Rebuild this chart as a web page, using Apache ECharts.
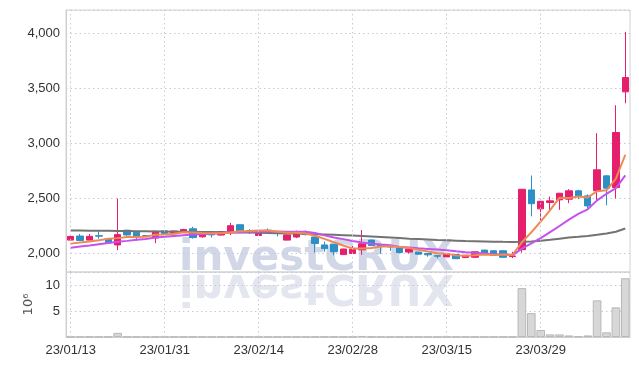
<!DOCTYPE html>
<html><head><meta charset="utf-8">
<script src="https://cdn.jsdelivr.net/npm/echarts@6/dist/echarts.min.js"></script>
<style>html,body{margin:0;padding:0;background:#fff}#c{width:639px;height:366px}</style>
</head><body><div id="c"></div>
<script>
const dates = ['23/01/13','23/01/16','23/01/17','23/01/18','23/01/19','23/01/20','23/01/25','23/01/26','23/01/27','23/01/30',
'23/01/31','23/02/01','23/02/02','23/02/03','23/02/06','23/02/07','23/02/08','23/02/09','23/02/10','23/02/13',
'23/02/14','23/02/15','23/02/16','23/02/17','23/02/20','23/02/21','23/02/22','23/02/23','23/02/24','23/02/27',
'23/02/28','23/03/02','23/03/03','23/03/06','23/03/07','23/03/08','23/03/09','23/03/10','23/03/13','23/03/14',
'23/03/15','23/03/16','23/03/17','23/03/20','23/03/21','23/03/22','23/03/23','23/03/24','23/03/27','23/03/28',
'23/03/29','23/03/30','23/03/31','23/04/03','23/04/04','23/04/05','23/04/06','23/04/07','23/04/10','23/04/11'];

const opens  = [2122,2159,2122,2162,2134,2078,2212,2194,2162,2141, 2206,2180,2196,2225,2152,2172,2168,2188,2262,2208,
                2164,2212,2190,2122,2150,2188,2150,2078,2084,1990, 2000,2034,2122,2081,2066,2050,2013,2013,2000,1980,
                1969,1991,1963,1966,2031,2025,2025,1972,2035,2578, 2406,2464,2488,2494,2570,2524,2570,2706,2600,3470];
const closes = [2156,2119,2156,2158,2097,2172,2169,2150,2160,2203, 2183,2205,2218,2145,2185,2170,2200,2253,2206,2193,
                2205,2193,2186,2169,2191,2172,2091,2044,2016,2041, 2040,2088,2072,2072,2060,2009,2041,1994,1988,1976,
                1998,1953,1984,2016,2000,1984,1966,1978,2584,2453, 2475,2479,2548,2570,2518,2433,2761,2594,3100,3600];
const lows   = [2116,2115,2119,2134,2087,2031,2162,2116,2150,2094, 2178,2178,2190,2136,2144,2145,2162,2168,2200,2178,
                2160,2178,2156,2119,2140,2165,2009,2016,1984,1986, 1996,1988,2068,1997,2025,2003,2000,1990,1972,1956,
                1962,1950,1960,1962,1997,1981,1963,1959,2009,2338, 2300,2379,2397,2458,2494,2409,2488,2439,2500,3366];
const highs  = [2160,2178,2178,2203,2137,2500,2215,2197,2166,2206, 2208,2208,2225,2243,2188,2194,2205,2278,2264,2222,
                2208,2228,2200,2172,2209,2209,2152,2109,2086,2043, 2069,2213,2125,2084,2070,2066,2056,2016,2002,1982,
                2003,1994,1987,2019,2034,2028,2028,2016,2586,2709, 2478,2518,2551,2585,2579,2539,3094,2712,3348,4015];

const volumes = [0.05,0.04,0.05,0.04,0.06,0.8,0.05,0.04,0.03,0.05, 0.04,0.03,0.04,0.05,0.03,0.03,0.04,0.06,0.05,0.03,
                 0.03,0.04,0.03,0.04,0.03,0.03,0.05,0.05,0.06,0.04, 0.05,0.2,0.06,0.04,0.03,0.04,0.03,0.03,0.03,0.03,
                 0.04,0.04,0.03,0.05,0.04,0.03,0.04,0.05,9.4,4.6, 1.35,0.5,0.5,0.3,0.15,0.3,7.05,0.9,5.7,11.3];

const ma5  = [2090,2100,2110,2120,2134,2140,2150,2150,2152,2170, 2174,2180,2193,2191,2187,2185,2184,2191,2203,2204,
              2210,2210,2197,2189,2189,2182,2162,2133,2103,2073, 2046,2046,2051,2063,2066,2060,2051,2035,2018,2002,
              1999,1982,1980,1985,1990,1987,1990,1989,2102,2193, 2291,2394,2508,2505,2518,2510,2566,2575,2681,2898];
const ma10 = [2053,2063,2073,2084,2095,2106,2115,2125,2133,2145, 2152,2160,2166,2172,2176,2180,2186,2190,2194,2197,
              2199,2200,2200,2199,2198,2197,2186,2165,2146,2131, 2114,2100,2090,2082,2075,2060,2055,2048,2042,2036,
              2030,2020,2012,2006,2000,1994,1990,1986,2045,2093, 2140,2195,2250,2308,2360,2402,2483,2543,2595,2710];
const ma60 = [2210,2209,2208,2207,2206,2205,2204,2203,2202,2201, 2200,2199,2198,2197,2196,2195,2194,2193,2192,2191,
              2189,2187,2185,2183,2181,2178,2176,2173,2170,2167, 2163,2159,2155,2150,2145,2140,2135,2131,2127,2123,
              2120,2117,2114,2112,2110,2108,2106,2105,2106,2110, 2116,2125,2135,2145,2152,2160,2170,2183,2198,2228];

const priceTicks = [2000,2500,3000,3500,4000];
const volumeTicks = [5,10];
const gridDateIdx = [0,10,20,30,40,50];

const FONT = '"Liberation Sans", Arial, sans-serif';
const gridDot = {type:[1.5,3], color:'#c6c9da', width:1};
const vLines = {
  silent:true, symbol:['none','none'], animation:false,
  label:{show:false}, lineStyle:gridDot, emphasis:{disabled:true},
  data: gridDateIdx.map(i => ({xAxis: dates[i]}))
};

const chart = echarts.init(document.getElementById('c'), null, {renderer:'canvas'});
chart.setOption({
  animation:false,
  backgroundColor:'#fff',
  graphic:[
    {type:'text', x:179, y:259, z:0, silent:true,
     style:{text:'investCRUX', font:'bold 42px "DejaVu Sans"', fill:'#d2d7e8', verticalAlign:'middle', align:'left'}},
    {type:'text', x:179, y:286, scaleY:-1, z:0, silent:true,
     style:{text:'investCRUX', font:'bold 42px "DejaVu Sans"', fill:'#e4e6ef', verticalAlign:'middle', align:'left'}}
  ],
  grid:[
    {left:66, right:9, top:10, height:262, show:true, borderColor:'#d2d2d2', borderWidth:1, backgroundColor:'transparent'},
    {left:66, right:9, top:272, height:65, show:true, borderColor:'#d2d2d2', borderWidth:1, backgroundColor:'transparent'}
  ],
  xAxis:[
    {type:'category', gridIndex:0, data:dates, boundaryGap:true,
     axisLine:{show:false}, axisTick:{show:false}, axisLabel:{show:false}, splitLine:{show:false}},
    {type:'category', gridIndex:1, data:dates, boundaryGap:true,
     axisLine:{show:true, lineStyle:{color:'#cfcfcf'}}, axisTick:{show:false},
     axisLabel:{interval:9, color:'#333', fontFamily:FONT, fontSize:13, margin:7}, splitLine:{show:false}}
  ],
  yAxis:[
    {type:'value', gridIndex:0, min:1832, max:4214,
     axisLine:{show:true, lineStyle:{color:'#cfcfcf'}}, axisTick:{show:false},
     axisLabel:{color:'#333', fontFamily:FONT, fontSize:13, margin:6,
       formatter:v => priceTicks.includes(v) ? v.toLocaleString('en-US') : ''},
     splitLine:{show:true, lineStyle:gridDot}},
    {type:'value', gridIndex:1, min:0, max:12.5, interval:5,
     axisLine:{show:true, lineStyle:{color:'#cfcfcf'}}, axisTick:{show:false},
     axisLabel:{color:'#333', fontFamily:FONT, fontSize:13, margin:6,
       formatter:v => volumeTicks.includes(v) ? String(v) : ''},
     splitLine:{show:true, lineStyle:gridDot},
     name:'10\u2076', nameLocation:'middle', nameRotate:90, nameGap:30,
     nameTextStyle:{color:'#555', fontFamily:'"DejaVu Sans", sans-serif', fontSize:13}}
  ],
  series:[
    {type:'candlestick', xAxisIndex:0, yAxisIndex:0, barWidth:7,
     data: dates.map((d,i)=>[opens[i],closes[i],lows[i],highs[i]]),
     itemStyle:{color:'#e61f6c', color0:'#2c8fc6', borderColor:'#e61f6c', borderColor0:'#2c8fc6', borderWidth:1},
     markLine:vLines},
    {type:'line', xAxisIndex:0, yAxisIndex:0, data:ma60, symbol:'none', lineStyle:{width:2, color:'#737373'}},
    {type:'line', xAxisIndex:0, yAxisIndex:0, data:ma10, symbol:'none', lineStyle:{width:2, color:'#c652ec'}},
    {type:'line', xAxisIndex:0, yAxisIndex:0, data:ma5, symbol:'none', lineStyle:{width:2, color:'#ef8a55'}},
    {type:'bar', xAxisIndex:1, yAxisIndex:1, data:volumes, barCategoryGap:'8%',
     itemStyle:{color:'#d7d7d7', borderColor:'#b8b8b8', borderWidth:1},
     markLine:vLines}
  ]
});
</script></body></html>
